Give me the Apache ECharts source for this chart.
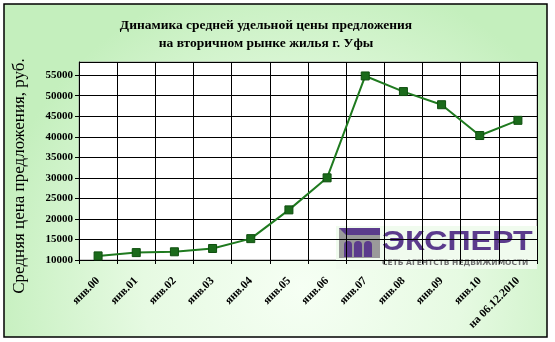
<!DOCTYPE html>
<html><head><meta charset="utf-8">
<script src="https://cdn.jsdelivr.net/npm/echarts@6/dist/echarts.min.js"></script>
<style>html,body{margin:0;padding:0;background:#fff}#c{width:555px;height:342px}</style>
</head><body><div id="c"></div>
<script>
const categories = ['янв.00','янв.01','янв.02','янв.03','янв.04','янв.05','янв.06','янв.07','янв.08','янв.09','янв.10','на 06.12.2010'];
const prices = [11000, 11800, 12000, 12800, 15200, 22200, 30000, 54800, 51000, 47800, 40300, 44000];
const titleLines = ['Динамика средней удельной цены предложения', 'на вторичном рынке жилья г. Уфы'];
const yAxisName = 'Средняя цена предложения, руб.';
const logoName = 'ЭКСПЕРТ';
const logoSub = 'СЕТЬ АГЕНТСТВ НЕДВИЖИМОСТИ';

const serif = '"Liberation Serif", "DejaVu Serif", serif';
const purple = '#5b3b8c';
const chart = echarts.init(document.getElementById('c'));
chart.setOption({
  animation: false,
  backgroundColor: '#ffffff',
  title: {
    text: titleLines.join('\n'),
    left: 261, top: 12, textAlign: 'center',
    textStyle: { fontFamily: serif, fontWeight: 'bold', fontSize: 13.5, lineHeight: 18, color: '#000' }
  },
  grid: {
    left: 79, right: 18, top: 62, bottom: 82,
    show: true, backgroundColor: '#ffffff', borderColor: '#9a9a9a', borderWidth: 1
  },
  xAxis: {
    type: 'category', data: categories, boundaryGap: true,
    axisLine: { lineStyle: { color: '#000', width: 1 } },
    axisTick: { show: true, length: 4, interval: 0, lineStyle: { color: '#000' } },
    axisLabel: { rotate: 45, interval: 0, margin: 19, fontFamily: serif, fontWeight: 'bold', fontSize: 11.5, color: '#000' },
    splitLine: { show: true, interval: 0, lineStyle: { color: '#000', width: 1 } }
  },
  yAxis: {
    type: 'value', min: 10000, max: 58200, interval: 5000,
    axisLine: { show: true, lineStyle: { color: '#000', width: 1 } },
    axisTick: { show: true, length: 4, lineStyle: { color: '#000' } },
    axisLabel: { showMaxLabel: false, margin: 6, fontFamily: serif, fontWeight: 'bold', fontSize: 11, color: '#000',
      formatter: v => String(v) },
    splitLine: { show: true, lineStyle: { color: '#000', width: 1 } }
  },
  series: [{
    type: 'line', data: prices, symbol: 'rect', symbolSize: 8,
    lineStyle: { color: '#1f7a1f', width: 2 },
    itemStyle: { color: '#1b6b1b', borderColor: '#0f4f0f', borderWidth: 1 },
    z: 3
  }],
  graphic: [
    { type: 'rect', z: -10, silent: true, shape: { x: 4, y: 4, width: 543, height: 333 },
      style: { stroke: '#000', lineWidth: 1.5,
        fill: { type: 'radial', x: 0.55, y: 0.85, r: 0.95, colorStops: [
          { offset: 0, color: '#f6fff4' }, { offset: 0.5, color: '#e6fae2' }, { offset: 1, color: '#c4efbd' } ] } } },
    { type: 'text', z: 50, x: 20, y: 176, rotation: Math.PI / 2,
      style: { text: yAxisName, fill: '#000', font: '17px ' + serif, textAlign: 'center', textVerticalAlign: 'middle' } },
    { type: 'group', z: 100, children: [
      { type: 'rect', shape: { x: 336, y: 226, width: 201, height: 43 }, style: { fill: '#f0fbee' } },
      { type: 'rect', shape: { x: 339, y: 228, width: 41, height: 30 }, style: { fill: '#9a9a9a' } },
      { type: 'polygon', shape: { points: [[339,228],[380,228],[380,235],[346,235]] }, style: { fill: purple } },
      { type: 'rect', shape: { x: 344, y: 241, width: 8, height: 16, r: [4,4,0,0] }, style: { fill: purple } },
      { type: 'rect', shape: { x: 354, y: 241, width: 8, height: 16, r: [4,4,0,0] }, style: { fill: purple } },
      { type: 'rect', shape: { x: 364, y: 241, width: 8, height: 16, r: [4,4,0,0] }, style: { fill: purple } },
      { type: 'text', x: 382, y: 228, scaleX: 1.15, style: { x: 0, y: 0, text: logoName, fill: purple,
          font: 'bold 28px "Liberation Sans", Arial, sans-serif', textVerticalAlign: 'top' } },
      { type: 'text', style: { x: 382, y: 263, text: logoSub, fill: '#6e6e6e',
          font: 'bold 7.5px "DejaVu Sans", sans-serif', textVerticalAlign: 'middle' } }
    ] }
  ]
});
</script></body></html>
